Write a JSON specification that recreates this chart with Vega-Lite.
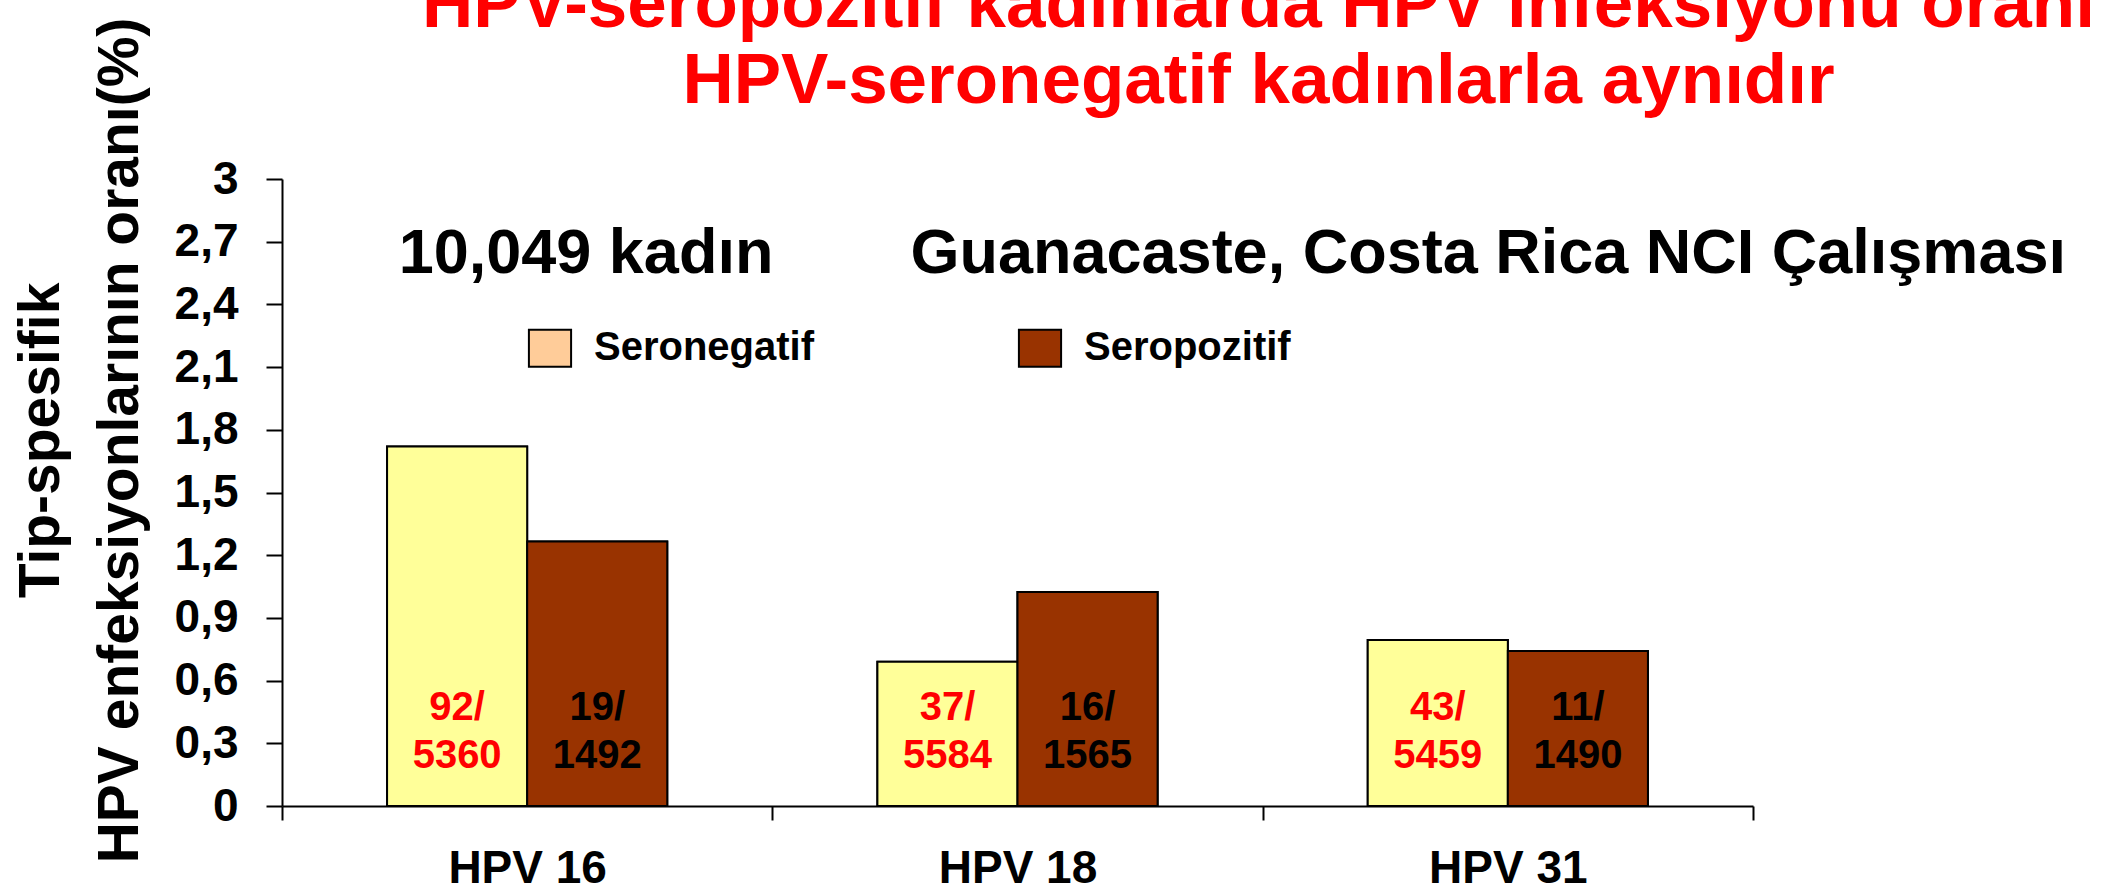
{
  "$schema": "https://vega.github.io/schema/vega-lite/v6.json",
  "autosize": {"type": "none"},
  "padding": {"left": 282, "top": 179, "right": 356, "bottom": 88},
  "width": 1471,
  "height": 627,
  "background": "white",
  "config": {"font": "Liberation Sans", "view": {"stroke": null}},
  "title": {
    "text": ["HPV-seropozitif kadınlarda HPV infeksiyonu oranı", "HPV-seronegatif kadınlarla aynıdır"],
    "color": "#FF0000",
    "fontSize": 71,
    "fontWeight": "bold",
    "lineHeight": 76,
    "anchor": "middle",
    "frame": "group",
    "dx": 241,
    "offset": -101
  },
  "data": {
    "values": [
      {"hpv": "HPV 16", "grp": "Seronegatif", "rate": 1.72, "cases": "92/", "total": "5360"},
      {"hpv": "HPV 16", "grp": "Seropozitif", "rate": 1.265, "cases": "19/", "total": "1492"},
      {"hpv": "HPV 18", "grp": "Seronegatif", "rate": 0.69, "cases": "37/", "total": "5584"},
      {"hpv": "HPV 18", "grp": "Seropozitif", "rate": 1.024, "cases": "16/", "total": "1565"},
      {"hpv": "HPV 31", "grp": "Seronegatif", "rate": 0.794, "cases": "43/", "total": "5459"},
      {"hpv": "HPV 31", "grp": "Seropozitif", "rate": 0.742, "cases": "11/", "total": "1490"}
    ]
  },
  "layer": [
    {
      "mark": {"type": "bar", "stroke": "black", "strokeWidth": 2},
      "encoding": {
        "x": {
          "field": "hpv", "type": "nominal", "sort": null,
          "scale": {"paddingInner": 0, "paddingOuter": 0},
          "axis": {
            "title": null, "labelAngle": 0, "labelFontSize": 46, "labelFontWeight": "bold",
            "labelColor": "black", "labelPadding": 26, "labelBaseline": "top",
            "tickSize": 14, "tickColor": "black", "tickWidth": 2, "tickBand": "extent",
            "domainColor": "black", "domainWidth": 2
          }
        },
        "xOffset": {
          "field": "grp", "type": "nominal", "sort": ["Seronegatif", "Seropozitif"],
          "scale": {"paddingInner": 0, "paddingOuter": 0.75}
        },
        "y": {
          "field": "rate", "type": "quantitative",
          "scale": {"domain": [0, 3], "nice": false},
          "axis": {
            "values": [0, 0.3, 0.6, 0.9, 1.2, 1.5, 1.8, 2.1, 2.4, 2.7, 3],
            "labelExpr": "replace(format(datum.value, '.1~f'), '.', ',')",
            "labelFontSize": 46, "labelFontWeight": "bold", "labelColor": "black",
            "labelPadding": 28, "labelFlush": false, "labelOverlap": false,
            "tickSize": 16, "tickColor": "black", "tickWidth": 2,
            "domainColor": "black", "domainWidth": 2, "grid": false,
            "title": ["Tip-spesifik", "HPV enfeksiyonlarının oranı(%)"],
            "titleFontSize": 57, "titleFontWeight": "bold", "titleColor": "black",
            "titleAngle": -90, "titleX": -269, "titleY": 261,
            "titleAlign": "center", "titleBaseline": "top", "titleLineHeight": 79
          }
        },
        "color": {
          "field": "grp", "type": "nominal",
          "scale": {"domain": ["Seronegatif", "Seropozitif"], "range": ["#FFCC99", "#993300"]},
          "legend": {
            "title": null, "orient": "none", "legendX": 248, "legendY": 149,
            "direction": "horizontal", "padding": 0,
            "labelFontSize": 40, "labelFontWeight": "bold", "labelColor": "black",
            "labelOffset": 24, "columnPadding": 199, "labelBaseline": "middle", "labelLimit": 0,
            "symbolType": "M-1.14,-1H1.14V1H-1.14Z", "symbolSize": 1369,
            "symbolStrokeColor": "black", "symbolStrokeWidth": 2, "symbolOpacity": 1
          }
        }
      }
    },
    {
      "mark": {"type": "bar", "stroke": "black", "strokeWidth": 2},
      "encoding": {
        "x": {"field": "hpv", "type": "nominal", "sort": null},
        "xOffset": {"field": "grp", "type": "nominal", "sort": ["Seronegatif", "Seropozitif"]},
        "y": {"field": "rate", "type": "quantitative"},
        "fill": {
          "field": "grp", "type": "nominal",
          "scale": {"domain": ["Seronegatif", "Seropozitif"], "range": ["#FFFF99", "#993300"]},
          "legend": null
        }
      }
    },
    {
      "mark": {"type": "text", "fontSize": 40, "fontWeight": "bold", "baseline": "alphabetic", "align": "center"},
      "encoding": {
        "x": {"field": "hpv", "type": "nominal", "sort": null},
        "xOffset": {"field": "grp", "type": "nominal", "sort": ["Seronegatif", "Seropozitif"]},
        "y": {"datum": 0.411},
        "text": {"field": "cases"},
        "fill": {"condition": {"test": "datum.grp === 'Seronegatif'", "value": "#FF0000"}, "value": "black"}
      }
    },
    {
      "mark": {"type": "text", "fontSize": 40, "fontWeight": "bold", "baseline": "alphabetic", "align": "center"},
      "encoding": {
        "x": {"field": "hpv", "type": "nominal", "sort": null},
        "xOffset": {"field": "grp", "type": "nominal", "sort": ["Seronegatif", "Seropozitif"]},
        "y": {"datum": 0.182},
        "text": {"field": "total"},
        "fill": {"condition": {"test": "datum.grp === 'Seronegatif'", "value": "#FF0000"}, "value": "black"}
      }
    },
    {
      "data": {"values": [{"note": "10,049 kadın", "hpv": "HPV 16"}]},
      "mark": {"type": "text", "fontSize": 63, "fontWeight": "bold", "baseline": "alphabetic", "align": "center", "color": "black"},
      "encoding": {
        "x": {"field": "hpv", "type": "nominal", "sort": null, "bandPosition": 0.62},
        "y": {"datum": 2.55},
        "text": {"field": "note"}
      }
    },
    {
      "data": {"values": [{"note": "Guanacaste, Costa Rica NCI Çalışması", "hpv": "HPV 31"}]},
      "mark": {"type": "text", "fontSize": 63, "fontWeight": "bold", "baseline": "alphabetic", "align": "center", "color": "black"},
      "encoding": {
        "x": {"field": "hpv", "type": "nominal", "sort": null, "bandPosition": 0.46},
        "y": {"datum": 2.55},
        "text": {"field": "note"}
      }
    }
  ]
}
